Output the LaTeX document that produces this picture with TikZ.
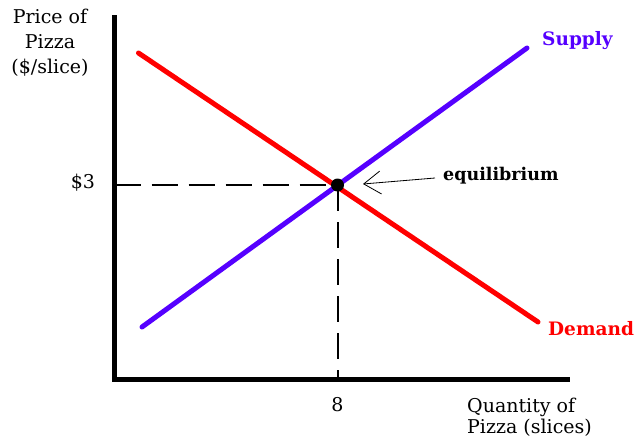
\documentclass[tikz,border=0pt]{standalone}
\usepackage{fontspec}
\setmainfont{DejaVu Serif}
\usetikzlibrary{arrows.meta}
\definecolor{supplyblue}{RGB}{85,0,255}
\definecolor{demandred}{RGB}{255,0,0}
\tikzset{
  axisline/.style={line width=5pt, line join=miter},
  curveline/.style={line width=5pt, line cap=round},
  guideline/.style={line width=2pt, dash pattern=on 26pt off 11pt},
  lbl/.style={inner sep=0pt, font=\fontsize{19}{25}\selectfont},
  boldlbl/.style={inner sep=0pt, font=\fontsize{18.5}{22}\selectfont\bfseries},
  pointer/.style={line width=0.8pt, {Straight Barb[length=17pt,width=23pt,line width=0.8pt]}-}
}
\begin{document}
\begin{tikzpicture}[x=1pt,y=-1pt]
\useasboundingbox (0,0) rectangle (640,439);
% axes
\coordinate (ytop) at (114.5,15);
\coordinate (origin) at (114.5,379.5);
\coordinate (xend) at (570,379.5);
\draw[axisline] (ytop) -- (origin) -- (xend);
% curves
\coordinate (s1) at (142,327);
\coordinate (s2) at (527,48);
\coordinate (d1) at (138.5,53);
\coordinate (d2) at (538,322);
\draw[curveline, demandred] (d1) -- (d2);
\draw[curveline, supplyblue] (s1) -- (s2);
% equilibrium
\node[circle, fill=black, inner sep=0pt, minimum size=13pt] (eq) at (337.5,185) {};
\coordinate (yp) at (114.5,185);
\coordinate (xq) at (337.5,379.5);
\draw[guideline] (yp) -- (eq.center);
\draw[guideline] (eq.center) -- (xq);
% labels
\node[lbl, align=center, anchor=center] (ylab) at (50,43) {Price of\\Pizza\\(\$/slice)};
\node[lbl, align=left, anchor=west, font=\fontsize{19}{21.5}\selectfont] (xlab) at (467,417.5) {Quantity of\\Pizza (slices)};
\node[lbl] (p3) at (83,183) {\$3};
\node[lbl] (q8) at (337.5,405) {8};
\node[boldlbl, text=supplyblue, anchor=west] (slab) at (542,41) {Supply};
\node[boldlbl, text=demandred, anchor=west] (dlab) at (548,329) {Demand};
\node[boldlbl, anchor=west, font=\fontsize{17.5}{22}\selectfont\bfseries] (eqlab) at (443,176) {equilibrium};
\coordinate (tip) at (363,184);
\coordinate (tail) at (435,178);
\draw[pointer] (tip) -- (tail);
\end{tikzpicture}
\end{document}
